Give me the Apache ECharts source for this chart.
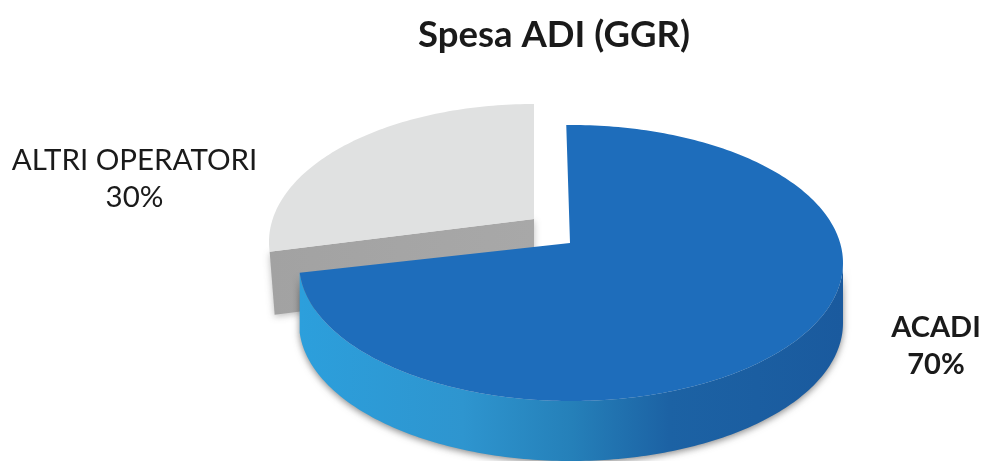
<!DOCTYPE html>
<html>
<head>
<meta charset="utf-8">
<title>Spesa ADI (GGR)</title>
<style>
    html, body { margin: 0; padding: 0; background: #fff; }
    #chart { width: 983px; height: 461px; }
</style>
<script src="https://cdn.jsdelivr.net/npm/echarts@6/dist/echarts.min.js"></script>
</head>
<body>
<div id="chart"></div>
<script>
var categories = ['ACADI', 'ALTRI OPERATORI'];
var shares = [70, 30];

(function() {
    var myChart = echarts.init(document.getElementById('chart'));

    var fontName = 'Lato, "Open Sans", sans-serif';

    // il disco in prospettiva: ogni fetta ha il suo centro perche' e' staccata
    var slices = [{
        cx: 571, cy: 263, rx: 272, ry: 138, apexX: 570, apexY: 243, depth: 60, startLean: -1,
        top: '#1e6dbb',
        wall: [
            { offset: 0, color: '#2c9fdc' },
            { offset: 0.3, color: '#2e95cf' },
            { offset: 0.5, color: '#2580b9' },
            { offset: 0.68, color: '#1c62a4' },
            { offset: 1, color: '#1a5a9e' }
        ],
        shadow: 'rgba(40,40,40,0.55)',
        label: { x: 936, y: 346, color: '#1a1a1a', weight: 'bold', size: 29 }
    }, {
        cx: 534, cy: 242, rx: 265, ry: 138, apexX: 534, apexY: 219, depth: 63, startLean: 0,
        top: '#e0e1e1',
        wall: [
            { offset: 0, color: '#a2a2a2' },
            { offset: 1, color: '#a8a8a8' }
        ],
        shadow: 'rgba(40,40,40,0.3)',
        label: { x: 134.5, y: 179, color: '#1a1a1a', weight: 'normal', size: 29.5 }
    }];

    // la vista inclinata allarga la fetta davanti: da angolo del dato ad angolo disegnato
    function viewAngle(deg) {
        return deg - 14.7 * Math.sin(deg * Math.PI / 180);
    }

    function arcPoint(s, deg, dy) {
        var rad = deg * Math.PI / 180;
        return [s.cx + s.rx * Math.sin(rad), s.cy - s.ry * Math.cos(rad) + (dy || 0)];
    }

    function arcPoints(s, from, to, dy) {
        var pts = [];
        var n = Math.max(2, Math.ceil(Math.abs(to - from)));
        for (var i = 0; i <= n; i++) {
            pts.push(arcPoint(s, from + (to - from) * i / n, dy));
        }
        return pts;
    }

    function renderSlice(params, api) {
        var index = params.dataIndex;
        var total = shares.reduce(function(a, b) { return a + b; }, 0);
        var before = shares.slice(0, index).reduce(function(a, b) { return a + b; }, 0);
        var s = slices[index];
        var start = viewAngle(before / total * 360) + s.startLean;
        var end = viewAngle((before + api.value(0)) / total * 360);
        var apex = [s.apexX, s.apexY];
        var children = [];
        var order = slices.length - index;

        var wallGradient = new echarts.graphic.LinearGradient(0, 0, 1, 0, s.wall);
        var shadow = { shadowBlur: 7, shadowColor: s.shadow, shadowOffsetY: 2 };

        // fianco curvo, si vede solo la parte davanti del disco (sotto i 5 gradi non si nota)
        var wallFrom = Math.max(start, 90);
        var wallTo = Math.min(end, 270);
        if (wallTo - wallFrom > 5) {
            children.push({
                type: 'polygon',
                z2: order,
                shape: {
                    points: arcPoints(s, wallFrom, wallTo, 0).concat(arcPoints(s, wallTo, wallFrom, s.depth))
                },
                style: Object.assign({ fill: wallGradient }, shadow)
            });
        }

        // taglio dritto verso il centro, solo se rivolto verso chi guarda
        if (start > 180) {
            var tip = arcPoint(s, start);
            children.push({
                type: 'polygon',
                z2: order,
                shape: {
                    points: [apex, tip, [tip[0] + 5, tip[1] + s.depth], [apex[0], apex[1] + s.depth]]
                },
                style: Object.assign({ fill: wallGradient }, shadow)
            });
        }

        // faccia superiore
        children.push({
            type: 'polygon',
            z2: order + 1,
            shape: { points: [apex].concat(arcPoints(s, start, end, 0)) },
            style: { fill: s.top }
        });

        // etichetta
        children.push({
            type: 'text',
            z2: 10,
            style: {
                x: s.label.x,
                y: s.label.y,
                text: categories[index] + '\n' + api.value(0) + '%',
                fill: s.label.color,
                font: s.label.weight + ' ' + s.label.size + 'px ' + fontName,
                lineHeight: 37,
                align: 'center',
                verticalAlign: 'middle'
            }
        });

        return { type: 'group', children: children };
    }

    var option = {
        animation: false,
        title: {
            text: 'Spesa ADI (GGR)',
            left: 549,
            top: 12,
            textAlign: 'center',
            textStyle: {
                color: '#1a1a1a',
                fontFamily: fontName,
                fontWeight: 'bold',
                fontSize: 36.5
            }
        },
        series: [{
            name: 'Spesa ADI',
            type: 'custom',
            coordinateSystem: 'none',
            clip: false,
            renderItem: renderSlice,
            encode: { value: 0, itemName: 1 },
            data: shares.map(function(v, i) {
                return { name: categories[i], value: [v] };
            })
        }]
    };

    myChart.setOption(option);
})();
</script>
</body>
</html>
